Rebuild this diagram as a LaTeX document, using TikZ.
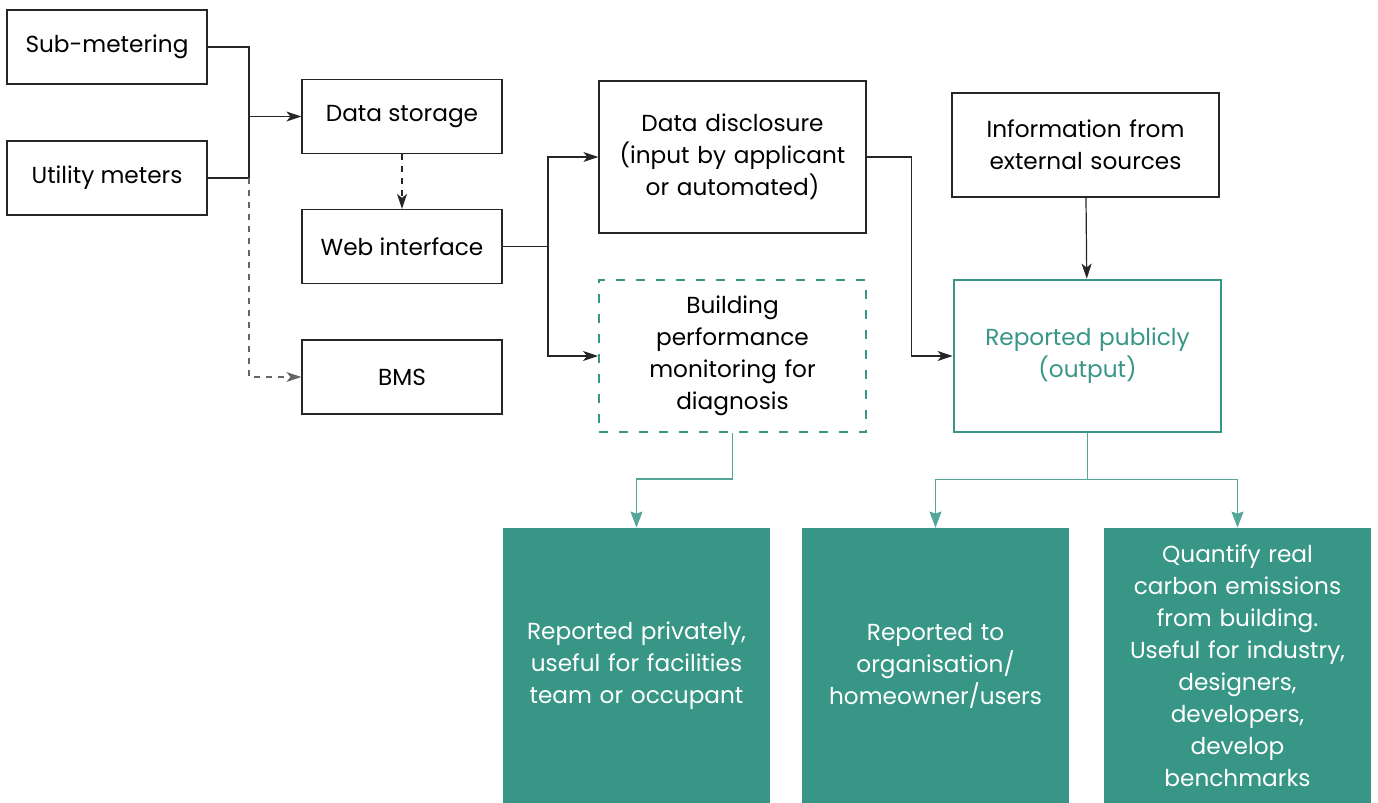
\documentclass[tikz,border=0pt]{standalone}
\usepackage{fontspec}
\setmainfont{Poppins}
\usetikzlibrary{arrows.meta}
\definecolor{tealgreen}{RGB}{55,150,134}

\begin{document}
\begin{tikzpicture}[x=0.5pt,y=-0.5pt,
  font=\fontsize{11.6}{16}\selectfont,
  box/.style={draw=black!85,line width=0.6pt,align=center,inner sep=2pt,
    minimum width=100pt,minimum height=37pt},
  widebox/.style={box,minimum width=133.5pt,text width=127pt},
  outbox/.style={fill=tealgreen,text=white,align=center,text width=127pt,
    minimum width=133.5pt,minimum height=137.5pt,inner sep=3pt},
  arr/.style={draw=black!85,line width=0.6pt,-{Stealth[length=7.5pt,width=5pt,inset=2pt]}},
  tarr/.style={draw=tealgreen!85,line width=0.6pt,-{Stealth[length=8pt,width=6pt,inset=1pt]}}]
  \useasboundingbox (0,0) rectangle (1378,803);
  % meters
  \node[box] (sub) at (107,47) {Sub-metering};
  \node[box] (util) at (107,178) {Utility meters};
  % data handling
  \node[box] (store) at (402,116.5) {Data storage};
  \node[box] (web) at (402,246.5) {Web interface};
  \node[box] (bms) at (402,377) {BMS};
  \node[widebox,minimum height=76pt] (disc) at (732.5,157) {Data disclosure\\(input by applicant\\or automated)};
  \node[widebox,draw=tealgreen,line width=1pt,dash pattern=on 4.5pt off 5.5pt,
    minimum height=76pt] (perf) at (732.5,356) {Building\\performance\\monitoring for\\diagnosis};
  \node[widebox,minimum height=52pt] (info) at (1085.5,145) {Information from\\external sources};
  \node[widebox,draw=tealgreen,line width=1.4pt,text=tealgreen,
    minimum height=76pt] (pub) at (1087.5,356) {Reported publicly\\(output)};
  % outputs
  \node[outbox] (out1) at (636.5,665.5) {Reported privately,\\useful for facilities\\team or occupant};
  \node[outbox] (out2) at (935.5,665.5) {Reported to\\organisation/\\homeowner/users};
  \node[outbox] (out3) at (1237.5,665.5) {Quantify real\\carbon emissions\\from building.\\Useful for industry,\\designers,\\developers,\\develop\\benchmarks};
  % connectors
  \coordinate (j1) at (249,116.5);
  \draw[draw=black!85,line width=0.6pt] (sub.east) -| (j1);
  \draw[draw=black!85,line width=0.6pt] (util.east) -| (j1);
  \draw[arr] (j1) -- (store.west);
  \draw[arr,draw=black!60,dashed] (j1 |- util.east) |- (bms.west);
  \draw[arr,dashed] (store) -- (web);
  \coordinate (j2) at (548,246.5);
  \draw[draw=black!85,line width=0.6pt] (web.east) -- (j2);
  \draw[arr] (j2) |- (disc.west);
  \draw[arr] (j2) |- (perf.west);
  \draw[arr] (disc.east) -- ++(45,0) |- (pub.west);
  \draw[arr] (info) -- (pub);
  \draw[tarr] (perf.south) -- ++(0,46) -| (out1.north);
  \draw[draw=tealgreen!85,line width=0.6pt] (pub.south) -- ++(0,46) coordinate (j3);
  \draw[tarr] (j3) -| (out2.north);
  \draw[tarr] (j3) -| (out3.north);
\end{tikzpicture}
\end{document}
